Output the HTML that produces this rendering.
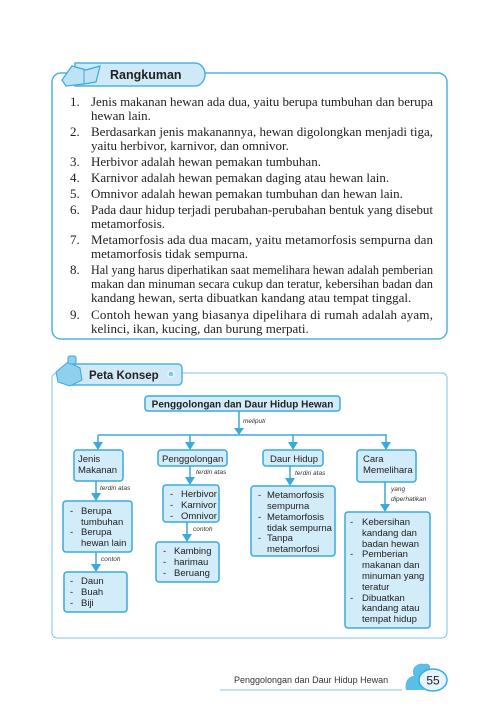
<!DOCTYPE html>
<html><head><meta charset="utf-8"><style>
html,body{margin:0;padding:0;background:#fff;}
svg{display:block;}
.s{font-family:"Liberation Sans",sans-serif;}
.r{font-family:"Liberation Serif",serif;}
</style></head><body>
<svg width="499" height="709" viewBox="0 0 499 709" xmlns="http://www.w3.org/2000/svg">
<!-- Rangkuman box -->
<rect x="52" y="73" width="395" height="266" rx="9" fill="#fff" stroke="#4db3e2" stroke-width="1.5"/>
<path d="M75,63 H195 A10,11.5 0 0 1 195,86 H75 Z" fill="#cfe9f7" stroke="#4db3e2" stroke-width="1.5"/>
<path d="M62,80 L72,66 L86,70 L100,66 L96,82 L84,84 L66,86 Z" fill="#bfe3f6" stroke="#3aa9dc" stroke-width="1.2"/>
<path d="M84,70 L84,84" stroke="#3aa9dc" stroke-width="1"/>
<text x="110" y="79" class="s" font-size="12.5" font-weight="bold" fill="#222">Rangkuman</text>
<g class="r" font-size="13" fill="#222">
<text x="70" y="106">1.</text><text x="91" y="106" textLength="342">Jenis makanan hewan ada dua, yaitu berupa tumbuhan dan berupa</text>
<text x="91" y="120">hewan lain.</text>
<text x="70" y="136">2.</text><text x="91" y="136" textLength="342">Berdasarkan jenis makanannya, hewan digolongkan menjadi tiga,</text>
<text x="91" y="150">yaitu herbivor, karnivor, dan omnivor.</text>
<text x="70" y="166">3.</text><text x="91" y="166">Herbivor adalah hewan pemakan tumbuhan.</text>
<text x="70" y="182">4.</text><text x="91" y="182">Karnivor adalah hewan pemakan daging atau hewan lain.</text>
<text x="70" y="198">5.</text><text x="91" y="198">Omnivor adalah hewan pemakan tumbuhan dan hewan lain.</text>
<text x="70" y="214">6.</text><text x="91" y="214" textLength="342">Pada daur hidup terjadi perubahan-perubahan bentuk yang disebut</text>
<text x="91" y="228">metamorfosis.</text>
<text x="70" y="244">7.</text><text x="91" y="244" textLength="342">Metamorfosis ada dua macam, yaitu metamorfosis sempurna dan</text>
<text x="91" y="258">metamorfosis tidak sempurna.</text>
<text x="70" y="274">8.</text><text x="91" y="274" textLength="342" lengthAdjust="spacingAndGlyphs">Hal yang harus diperhatikan saat memelihara hewan adalah pemberian</text>
<text x="91" y="288" textLength="342" lengthAdjust="spacingAndGlyphs">makan dan minuman secara cukup dan teratur, kebersihan badan dan</text>
<text x="91" y="302">kandang hewan, serta dibuatkan kandang atau tempat tinggal.</text>
<text x="70" y="319">9.</text><text x="91" y="319" textLength="342">Contoh hewan yang biasanya dipelihara di rumah adalah ayam,</text>
<text x="91" y="333">kelinci, ikan, kucing, dan burung merpati.</text>
</g>
<!-- Peta Konsep box -->
<rect x="52" y="373" width="395" height="265" rx="5" fill="#fff" stroke="#7cc6ea" stroke-width="1"/>
<path d="M72,364 H178 A4,4 0 0 1 182,368 V381 A4,4 0 0 1 178,385 H72 Z" fill="#cfe9f7" stroke="#4db3e2" stroke-width="1.5"/>
<path d="M56,372 L68,362 L80,368 L82,380 L70,386 L58,382 Z" fill="#8fd0ef" stroke="#3aa9dc" stroke-width="1"/>
<rect x="68" y="356" width="8" height="8" rx="2" fill="#8fd0ef" stroke="#3aa9dc"/>
<text x="89" y="379" class="s" font-size="11.5" font-weight="bold" fill="#222">Peta Konsep</text>
<circle cx="171" cy="374" r="3" fill="#7cc6ea" stroke="#fff"/>
<!-- connectors -->
<g stroke="#3aa9dc" stroke-width="1.5" fill="none">
<line x1="239" y1="411" x2="239" y2="430"/>
<line x1="98" y1="435" x2="387" y2="435"/>
<line x1="98" y1="435" x2="98" y2="444"/>
<line x1="190" y1="435" x2="190" y2="444"/>
<line x1="293" y1="435" x2="293" y2="444"/>
<line x1="386" y1="435" x2="386" y2="444"/>
<line x1="96" y1="481" x2="96" y2="495"/>
<line x1="96" y1="552" x2="96" y2="566"/>
<line x1="190" y1="466" x2="190" y2="479"/>
<line x1="187" y1="522" x2="187" y2="536"/>
<line x1="290" y1="466" x2="290" y2="480"/>
<line x1="385" y1="482" x2="385" y2="506"/>
</g>
<g fill="#3aa9dc">
<path d="M234,428 L239,435 L244,428 Z"/>
<path d="M93,442 L98,450 L103,442 Z"/>
<path d="M185,442 L190,450 L195,442 Z"/>
<path d="M288,442 L293,450 L298,442 Z"/>
<path d="M381,442 L386,450 L391,442 Z"/>
<path d="M91,493 L96,501 L101,493 Z"/>
<path d="M91,564 L96,572 L101,564 Z"/>
<path d="M185,477 L190,485 L195,477 Z"/>
<path d="M182,534 L187,542 L192,534 Z"/>
<path d="M285,478 L290,486 L295,478 Z"/>
<path d="M380,504 L385,512 L390,504 Z"/>
</g>
<!-- nodes -->
<g fill="#d2ecf9" stroke="#3aa9dc" stroke-width="1.5">
<rect x="145" y="396" width="195" height="15" rx="3"/>
<rect x="74" y="450" width="49" height="31" rx="3"/>
<rect x="158" y="450" width="69" height="16" rx="3"/>
<rect x="263" y="450" width="60" height="16" rx="3"/>
<rect x="357" y="450" width="59" height="32" rx="3"/>
<rect x="63" y="501" width="69" height="51" rx="3"/>
<rect x="64" y="572" width="63" height="40" rx="3"/>
<rect x="163" y="485" width="56" height="37" rx="3"/>
<rect x="156" y="542" width="63" height="40" rx="3"/>
<rect x="251" y="486" width="84" height="70" rx="3"/>
<rect x="345" y="512" width="85" height="116" rx="3"/>
</g>
<g class="s" fill="#222" font-size="9.5">
<text x="242.5" y="407.5" font-weight="bold" font-size="10" text-anchor="middle">Penggolongan dan Daur Hidup Hewan</text>
<text x="78" y="462">Jenis</text><text x="78" y="473">Makanan</text>
<text x="162" y="462">Penggolongan</text>
<text x="270" y="462">Daur Hidup</text>
<text x="363" y="462">Cara</text><text x="363" y="473">Memelihara</text>
<g><text x="70" y="514">-</text><text x="81" y="514">Berupa</text><text x="81" y="525">tumbuhan</text><text x="70" y="535">-</text><text x="81" y="535">Berupa</text><text x="81" y="546">hewan lain</text></g>
<g><text x="70" y="584">-</text><text x="81" y="584">Daun</text><text x="70" y="595">-</text><text x="81" y="595">Buah</text><text x="70" y="606">-</text><text x="81" y="606">Biji</text></g>
<g><text x="170" y="497">-</text><text x="181" y="497">Herbivor</text><text x="170" y="508">-</text><text x="181" y="508">Karnivor</text><text x="170" y="519">-</text><text x="181" y="519">Omnivor</text></g>
<g><text x="163" y="554">-</text><text x="174" y="554">Kambing</text><text x="163" y="565">-</text><text x="174" y="565">harimau</text><text x="163" y="576">-</text><text x="174" y="576">Beruang</text></g>
<g><text x="258" y="498">-</text><text x="267" y="498">Metamorfosis</text><text x="267" y="509">sempurna</text><text x="258" y="520">-</text><text x="267" y="520">Metamorfosis</text><text x="267" y="531">tidak sempurna</text><text x="258" y="541">-</text><text x="267" y="541">Tanpa</text><text x="267" y="552">metamorfosi</text></g>
<g><text x="350" y="525">-</text><text x="362" y="525">Kebersihan</text><text x="362" y="536">kandang dan</text><text x="362" y="547">badan hewan</text><text x="350" y="557">-</text><text x="362" y="557">Pemberian</text><text x="362" y="568">makanan dan</text><text x="362" y="579">minuman yang</text><text x="362" y="590">teratur</text><text x="350" y="601">-</text><text x="362" y="601">Dibuatkan</text><text x="362" y="611">kandang atau</text><text x="362" y="622">tempat hidup</text></g>
</g>
<g class="s" fill="#333" font-size="6.5" font-style="italic">
<text x="243" y="423">meliputi</text>
<text x="100" y="490">terdiri atas</text>
<text x="101" y="561">contoh</text>
<text x="196" y="474">terdiri atas</text>
<text x="193" y="531">contoh</text>
<text x="295" y="475">terdiri atas</text>
<text x="391" y="491">yang</text>
<text x="391" y="501">diperhatikan</text>
</g>
<!-- footer -->
<line x1="220" y1="690" x2="402" y2="690" stroke="#7cc6ea" stroke-width="1"/>
<text x="234" y="683" class="s" font-size="9" fill="#333">Penggolongan dan Daur Hidup Hewan</text>
<path d="M406,690 C404,680 410,676 414,676 C410,668 418,662 424,664 C430,662 432,668 428,672 L424,690 Z" fill="#5cbde8"/>
<ellipse cx="433" cy="680" rx="14" ry="11" fill="#e6f5fc" stroke="#3aa9dc" stroke-width="1.5"/>
<text x="433" y="684.5" class="s" font-size="12" text-anchor="middle" fill="#222">55</text>
</svg>
</body></html>
